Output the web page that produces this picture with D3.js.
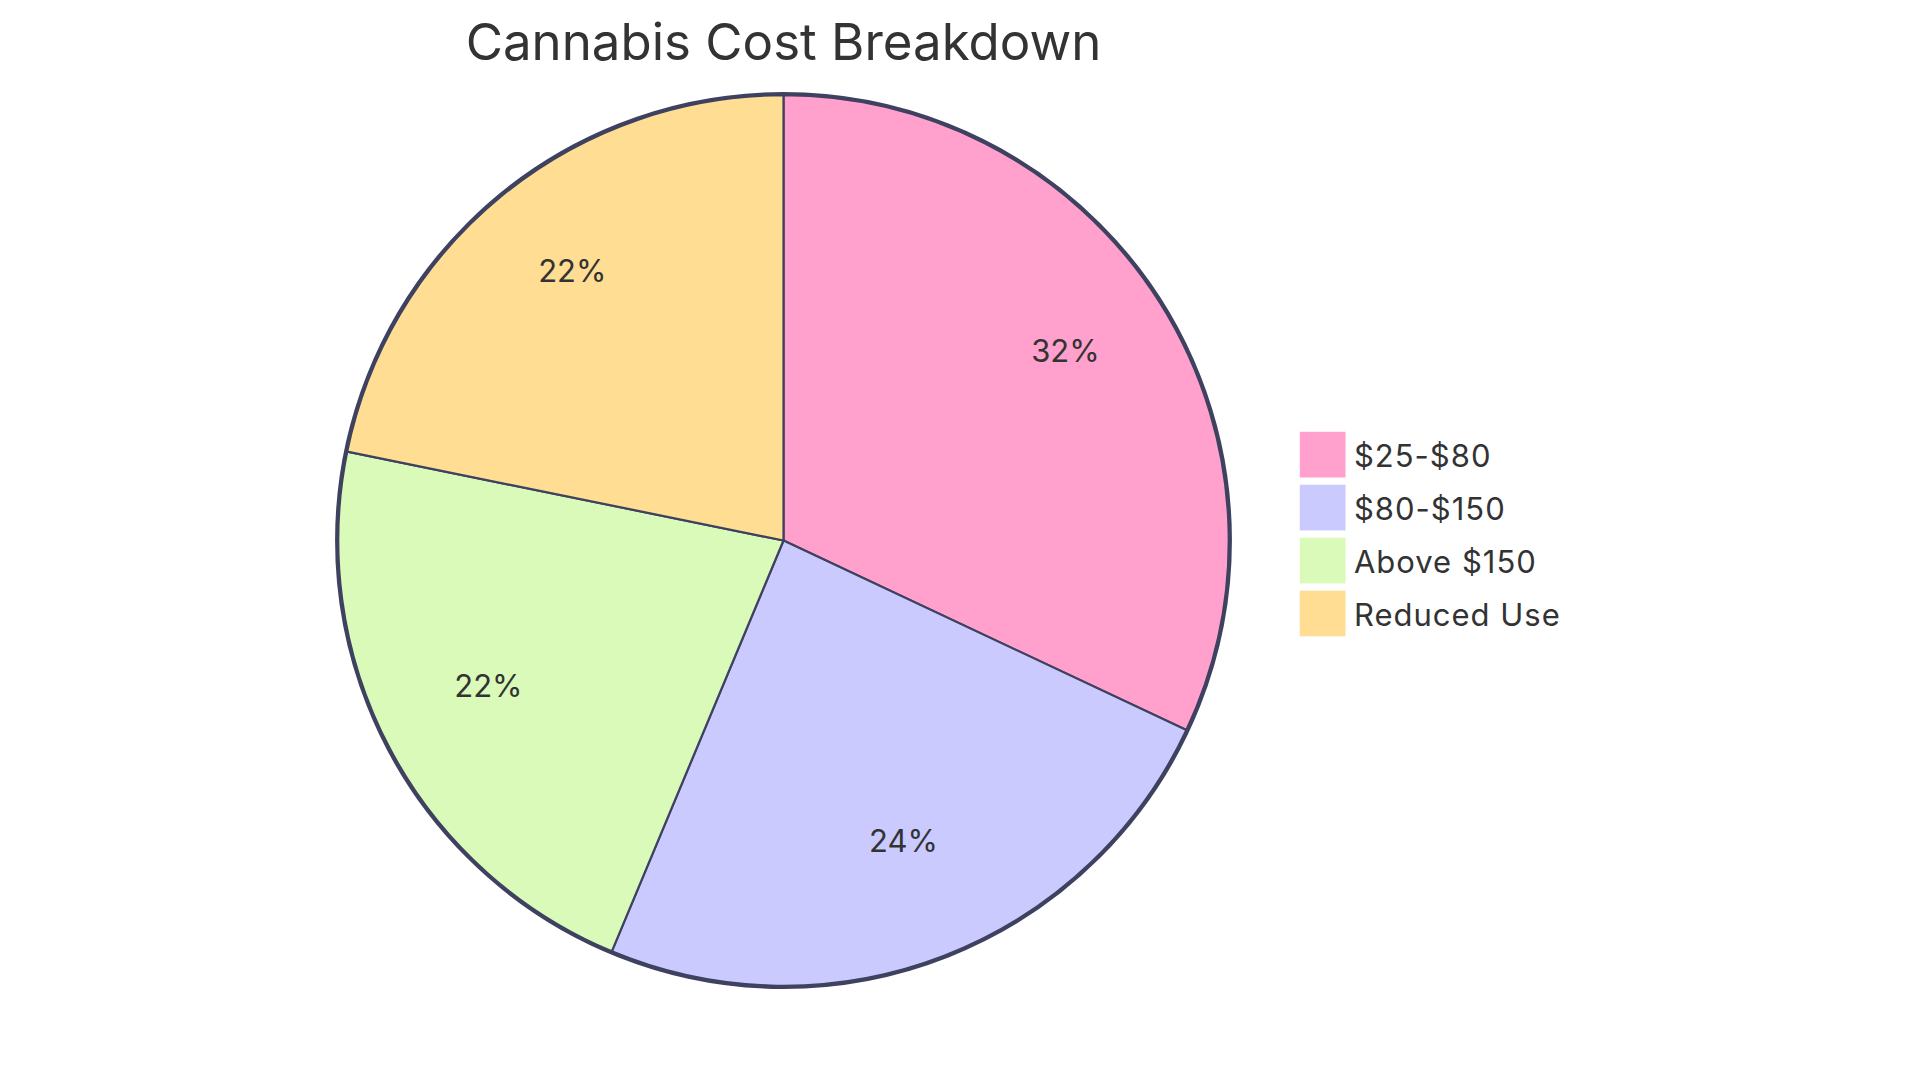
<!DOCTYPE html>
<html>
<head>
<meta charset="utf-8">
<script src="https://cdn.jsdelivr.net/npm/d3@7"></script>
<style>
  html, body { margin: 0; padding: 0; background: #ffffff; }
  svg { display: block; }
  text { font-family: Inter, "Open Sans", sans-serif; fill: #333333; }
</style>
</head>
<body>
<svg id="chart" width="1920" height="1083"></svg>
<script>
const title = "Cannabis Cost Breakdown";
const categories = ["$25-$80", "$80-$150", "Above $150", "Reduced Use"];
const values = [32, 24.3, 21.9, 21.8];
const colors = ["#FFA1CC", "#CACAFF", "#DAFAB9", "#FFDE94"];

const W = 1920, H = 1083;
const k = 2.4067;             // svg scale factor
const cx = 783.5, cy = 540.5;
const radius = 185 * k;
const strokeColor = "#3E4260";

const svg = d3.select("#chart");

const data = categories.map((c, i) => ({ label: c, value: values[i], color: colors[i] }));
const total = d3.sum(values);

const pie = d3.pie().value(d => d.value).sort(null);
const arc = d3.arc().innerRadius(0).outerRadius(radius);
const labelArc = d3.arc().innerRadius(radius * 0.75).outerRadius(radius * 0.75);

const g = svg.append("g").attr("transform", `translate(${cx},${cy})`);

const arcs = pie(data);

g.selectAll("path.slice")
  .data(arcs)
  .join("path")
  .attr("class", "slice")
  .attr("d", arc)
  .attr("fill", d => d.data.color)
  .attr("stroke", strokeColor)
  .attr("stroke-width", 2.2);

g.append("circle")
  .attr("r", radius + 1.5)
  .attr("fill", "none")
  .attr("stroke", strokeColor)
  .attr("stroke-width", 3.4);

g.selectAll("text.pct")
  .data(arcs)
  .join("text")
  .attr("class", "pct")
  .attr("transform", d => `translate(${labelArc.centroid(d)})`)
  .attr("text-anchor", "middle")
  .style("font-size", "31px")
  .text(d => (100 * d.data.value / total).toFixed(0) + "%");

svg.append("text")
  .attr("x", cx)
  .attr("y", 60)
  .attr("text-anchor", "middle")
  .style("font-size", "51px")
  .text(title);

const legendX = 1301, legendY0 = 433, rowH = 22 * k, rect = 18 * k;
const legend = svg.selectAll("g.legend")
  .data(data)
  .join("g")
  .attr("class", "legend")
  .attr("transform", (d, i) => `translate(${legendX},${legendY0 + i * rowH})`);

legend.append("rect")
  .attr("width", rect)
  .attr("height", rect)
  .attr("fill", d => d.color)
  .attr("stroke", d => d.color)
  .attr("stroke-width", k);

legend.append("text")
  .attr("x", 22 * k)
  .attr("y", 14 * k)
  .style("font-size", "31px")
  .style("letter-spacing", "1px")
  .text(d => d.label);
</script>
</body>
</html>
